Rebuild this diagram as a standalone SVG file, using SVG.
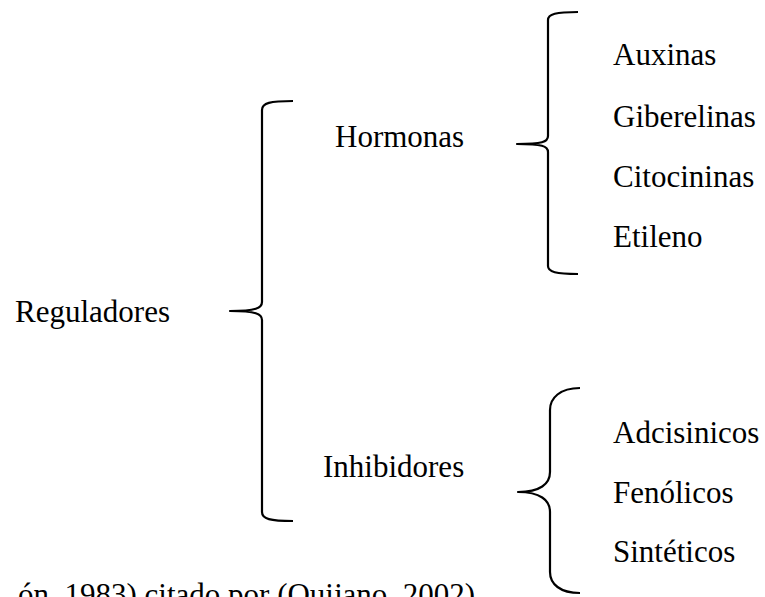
<svg xmlns="http://www.w3.org/2000/svg" width="765" height="597" viewBox="0 0 765 597">
<style>
text{font-family:"Liberation Serif","Times New Roman",serif;font-size:31px;fill:#000}
.br{fill:none;stroke:#000;stroke-width:2.2;stroke-linejoin:round}
</style>
<rect width="765" height="597" fill="#fff"/>
<g id="connectors">
<path class="br" d="M293,101 C270,101 262,103 262,110 L262,302 C262,308 256,311 230,311 C256,311 262,314 262,320 L262,512 C262,519 270,521 293,521"/>
<path class="br" d="M578,12 C556,12 548,14 548,20 L548,136 C548,142 542,144 517,144 C542,144 548,146 548,152 L548,266 C548,272 556,274 578,274"/>
<path class="br" d="M580,388 C560,388 550,398 550,410 L550,472 C550,484 540,492 518,492 C540,492 550,500 550,512 L550,572 C550,584 560,593 580,593"/>
</g>
<g id="reguladores"><text x="15" y="322">Reguladores</text></g>
<g id="hormonas"><text x="335" y="147">Hormonas</text></g>
<g id="inhibidores"><text x="323" y="477">Inhibidores</text></g>
<g id="auxinas"><text x="613" y="65">Auxinas</text></g>
<g id="giberelinas"><text x="613" y="127">Giberelinas</text></g>
<g id="citocininas"><text x="613" y="187">Citocininas</text></g>
<g id="etileno"><text x="613" y="247">Etileno</text></g>
<g id="adcisinicos"><text x="613" y="443">Adcisinicos</text></g>
<g id="fenolicos"><text x="613" y="503">Fenólicos</text></g>
<g id="sinteticos"><text x="613" y="562">Sintéticos</text></g>
<g id="source"><text x="18" y="605">ón, 1983) citado por (Quijano, 2002)</text></g>
</svg>
